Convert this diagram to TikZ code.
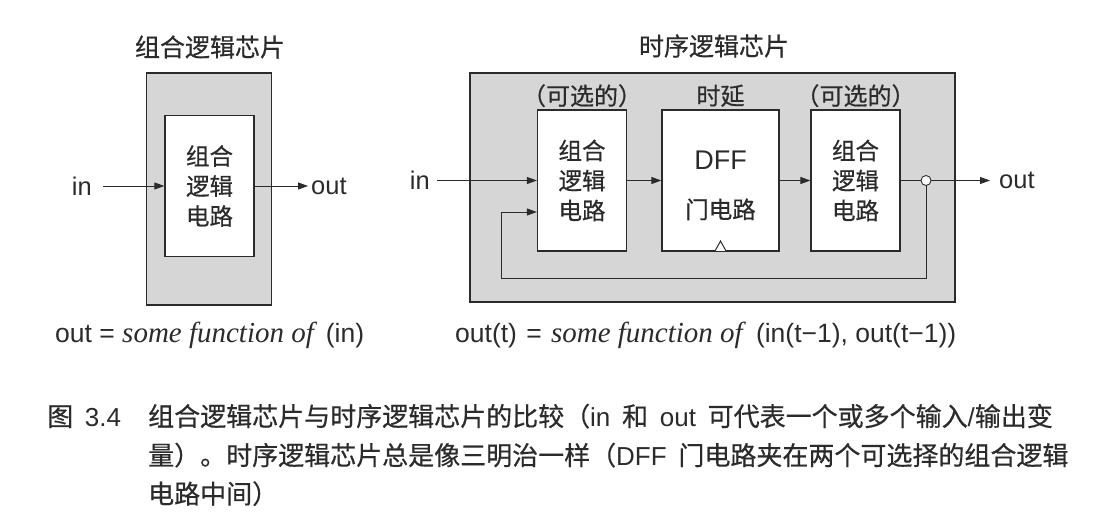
\documentclass[tikz,border=0pt]{standalone}
\usepackage{fontspec}
\setmainfont{Liberation Sans}
\newfontfamily\cjk{Noto Sans CJK SC}[FakeBold=0.5]
\newfontfamily\fnserif{Liberation Serif}
\usetikzlibrary{arrows.meta,positioning}
\definecolor{ink}{HTML}{2B2B2B}
\definecolor{chipgray}{HTML}{D6D6D6}
\tikzset{
  chip/.style={
    draw=ink,
    fill=chipgray,
    line width=1.3pt,
    inner sep=0pt
  },
  logic/.style={
    draw=ink,
    fill=white,
    line width=1.3pt,
    inner sep=0pt,
    align=center,
    text=ink,
    font=\cjk\fontsize{23.5}{30}\selectfont
  },
  title/.style={
    text=ink,
    inner sep=0pt,
    font=\cjk\fontsize{25}{30}\selectfont
  },
  tag/.style={
    text=ink,
    inner sep=0pt,
    font=\cjk\fontsize{24}{28}\selectfont
  },
  port/.style={
    text=ink,
    inner ysep=0pt,
    font=\fontsize{25.5}{30}\selectfont
  },
  junction/.style={
    circle,
    draw=ink,
    fill=white,
    line width=0.9pt,
    minimum size=10pt,
    inner sep=0pt
  },
  formula/.style={
    text=ink,
    inner sep=0pt,
    font=\fontsize{26.5}{30}\selectfont
  },
  caption/.style={
    text=ink,
    inner sep=0pt,
    font=\fontsize{26}{38.5}\selectfont
  },
  arrow/.style={
    -{Triangle[length=10pt,width=7pt]},
    draw=ink,
    line width=0.9pt
  },
  wire/.style={
    draw=ink,
    line width=0.9pt
  }
}
\newcommand{\fnof}{{\fnserif\itshape\fontsize{29}{30}\selectfont some function of}}

\begin{document}
\begin{tikzpicture}[x=1pt,y=-1pt]
  \useasboundingbox (0,0) rectangle (1107,526);

  % combinational chip
  \node[title] (titleA) at (210,47) {组合逻辑芯片};
  \node[chip, minimum width=125pt, minimum height=232pt] (chipA) at (209,189) {};
  \node[logic, minimum width=89pt, minimum height=141pt] (combA) at (209.5,186) {组合\\逻辑\\电路};
  \node[port, anchor=east, inner xsep=11pt] (inA) at (103,186) {in};
  \node[port, anchor=west, inner xsep=3pt] (outA) at (308,186) {out};
  \draw[arrow] (inA) -- (combA);
  \draw[arrow] (combA) -- (outA);

  % sequential chip
  \node[title] (titleB) at (714,46) {时序逻辑芯片};
  \node[chip, minimum width=485pt, minimum height=229pt] (chipB) at (712.5,187.5) {};
  \node[logic, minimum width=89pt, minimum height=141pt] (combB) at (582,180.5) {组合\\逻辑\\电路};
  \node[logic, minimum width=117pt, minimum height=141pt] (dff) at (720.5,180.5) {};
  \node[logic, yshift=-5pt, draw=none, fill=none] (dfftext) at (dff)
    {{\fontspec{Liberation Sans}\fontsize{27}{30}\selectfont DFF}\\[19pt]门电路};
  \node[logic, minimum width=89pt, minimum height=141pt] (combC) at (855.5,180.5) {组合\\逻辑\\电路};
  \node[tag, above=2pt of combB] (optB) {（可选的）};
  \node[tag, above=2pt of combC] (optC) {（可选的）};
  \node[tag] (delay) at (optB -| dff) {时延};

  \node[port, anchor=east, inner xsep=7pt] (inB) at (437,180.5) {in};
  \node[junction] (jn) at (926,180.5) {};
  \node[port, anchor=west, inner xsep=9pt] (outB) at (990,180.5) {out};
  \coordinate (loop) at (501,278);
  \coordinate (clk) at (720.5,251);

  \draw[arrow] (inB) -- (combB);
  \draw[arrow] (combB) -- (dff);
  \draw[arrow] (dff) -- (combC);
  \draw[wire] (combC) -- (jn);
  \draw[arrow] (jn) -- (outB);
  \draw[arrow] (jn.south) |- (loop) |- ([yshift=-31.5pt]combB.west);
  \draw[wire, line width=1pt, fill=white] (clk) ++(-5.5,0) -- ++(5.5,-10) -- ++(5.5,10);

  % formulas
  \node[formula, anchor=base west] (fnA) at (55,342) {out = \fnof\hspace{0.45em}(in)};
  \node[formula, anchor=base west] (fnB) at (455,342)
    {out(t)\hspace{0.35em}=\hspace{0.35em}\fnof\hspace{0.5em}(in(t−1), out(t−1))};

  % caption
  \node[caption, anchor=base west] (figno) at (47,426) {{\cjk 图}\hspace{0.45em}3.4};
  \node[caption, anchor=base west] (cap1) at (148,426)
    {{\cjk 组合逻辑芯片与时序逻辑芯片的比较（}in\hspace{0.45em}{\cjk 和}\hspace{0.45em}out\hspace{0.45em}{\cjk 可代表一个或多个输入}/{\cjk 输出变}};
  \node[caption, anchor=base west] (cap2) at (148,465)
    {{\cjk 量）。时序逻辑芯片总是像三明治一样（}DFF\hspace{0.45em}{\cjk 门电路夹在两个可选择的组合逻辑}};
  \node[caption, anchor=base west] (cap3) at (148,503.5) {{\cjk 电路中间）}};
\end{tikzpicture}
\end{document}
